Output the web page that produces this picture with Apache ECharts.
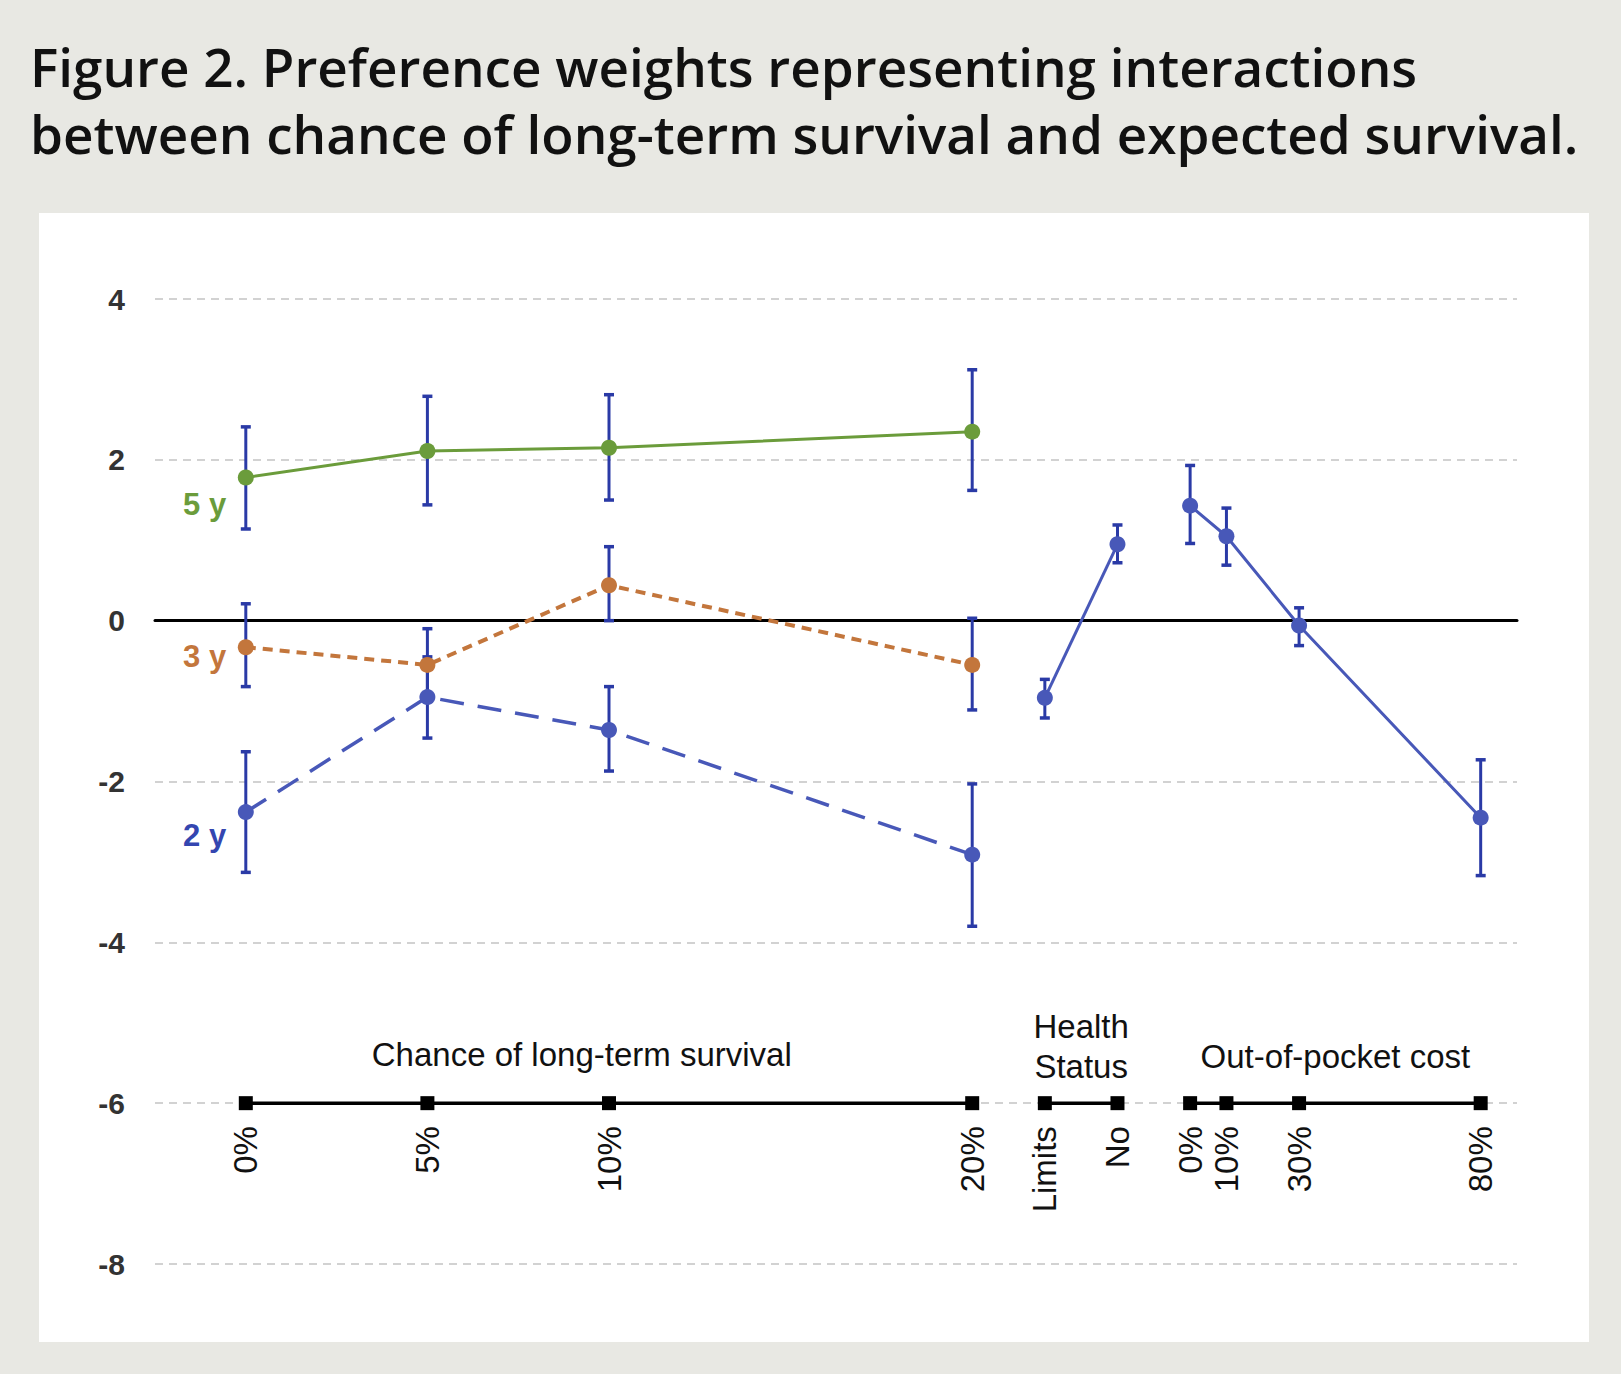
<!DOCTYPE html>
<html><head><meta charset="utf-8">
<script src="https://cdn.jsdelivr.net/npm/echarts@6/dist/echarts.min.js"></script>
<style>
html,body{margin:0;padding:0;background:#e8e8e3;}
#panel{position:absolute;left:39px;top:213px;width:1550px;height:1129px;background:#fff;}
#chart{position:absolute;left:0;top:0;width:1621px;height:1374px;}
</style></head><body>
<div id="panel"></div><div id="chart"></div>
<script>
// ---- categories / tick labels ----
const chanceTicks = ['0%', '5%', '10%', '20%'];
const chanceX = [0, 5, 10, 20];
const healthTicks = ['Limits', 'No'];
const healthX = [22, 24];
const costTicks = ['0%', '10%', '30%', '80%'];
const costX = [26, 27, 29, 34];
const yTicks = [-8, -6, -4, -2, 0, 2, 4];
const groupNames = ['Chance of long-term survival', 'Health\nStatus', 'Out-of-pocket cost'];
const seriesNames = ['5 y', '3 y', '2 y'];

// ---- series values (preference weights) ----
const y5 = [1.78, 2.11, 2.15, 2.35];
const y5Low = [1.14, 1.44, 1.50, 1.62];
const y5High = [2.41, 2.79, 2.81, 3.12];
const y3 = [-0.33, -0.55, 0.44, -0.55];
const y3Low = [-0.82, -1.00, 0.00, -1.11];
const y3High = [0.21, -0.10, 0.92, 0.03];
const y2 = [-2.38, -0.95, -1.36, -2.91];
const y2Low = [-3.13, -1.46, -1.87, -3.80];
const y2High = [-1.63, -0.45, -0.82, -2.03];
const health = [-0.96, 0.95];
const healthLow = [-1.21, 0.72];
const healthHigh = [-0.73, 1.19];
const cost = [1.43, 1.05, -0.06, -2.45];
const costLow = [0.96, 0.69, -0.31, -3.17];
const costHigh = [1.93, 1.40, 0.16, -1.73];

// ---- styles ----
const GREEN = '#6b9c3b', ORANGE = '#c3763c', BLUE = '#4858b8', ERR = '#2a3aa6', NAMEBLUE = '#3446b0';
const FONT = '"Liberation Sans", Arial, sans-serif';

const pairs = (xs, ys) => xs.map((x, i) => [x, ys[i]]);
const errData = [];
function addErr(xs, lo, hi) { xs.forEach((x, i) => errData.push([x, lo[i], hi[i]])); }
addErr(chanceX, y5Low, y5High);
addErr(chanceX, y3Low, y3High);
addErr(chanceX, y2Low, y2High);
addErr(healthX, healthLow, healthHigh);
addErr(costX, costLow, costHigh);

const AXIS_ROW = -6;
function axisRow(xs, ticks) {
  return {
    type: 'line', z: 3, data: xs.map(x => [x, AXIS_ROW]),
    symbol: 'rect', symbolSize: 14, itemStyle: { color: '#000' },
    lineStyle: { color: '#000', width: 3.5 },
    label: {
      show: true, position: 'bottom', distance: 16, rotate: 90,
      align: 'right', verticalAlign: 'middle',
      formatter: p => ticks[p.dataIndex],
      fontSize: 33, color: '#111', fontFamily: FONT
    },
    silent: true
  };
}
function lineSeries(xs, ys, color, type, width) {
  return {
    type: 'line', z: 4, data: pairs(xs, ys), symbol: 'circle', symbolSize: 16,
    itemStyle: { color: color }, lineStyle: { color: color, width: width, type: type },
    silent: true
  };
}

const nameColors = [GREEN, ORANGE, NAMEBLUE];
const nameAnchors = [[-0.54, 1.44], [-0.54, -0.45], [-0.54, -2.67]];

const chart = echarts.init(document.getElementById('chart'), null, { renderer: 'svg' });
chart.setOption({
  animation: false,
  backgroundColor: 'transparent',
  title: {
    text: 'Figure 2. Preference weights representing interactions\nbetween chance of long-term survival and expected survival.',
    left: 25, top: 28,
    textStyle: { fontFamily: '"Open Sans", "Noto Sans", sans-serif', fontWeight: 600, fontSize: 53, lineHeight: 67, color: '#111' }
  },
  grid: { left: 155, right: 104, top: 299, bottom: 110, containLabel: false },
  xAxis: {
    type: 'value', min: -2.5, max: 35,
    axisLine: { show: true, onZero: true, lineStyle: { color: '#000', width: 3 } },
    axisTick: { show: false }, axisLabel: { show: false }, splitLine: { show: false }
  },
  yAxis: {
    type: 'value', min: yTicks[0], max: yTicks[yTicks.length - 1], interval: 2,
    axisLine: { show: false }, axisTick: { show: false },
    axisLabel: { margin: 30, fontSize: 30, fontWeight: 'bold', color: '#333', fontFamily: FONT },
    splitLine: { show: true, lineStyle: { color: '#d2d2d2', width: 2, type: [8, 6] } }
  },
  series: [
    {
      type: 'custom', z: 2, data: errData, silent: true,
      renderItem: (params, api) => {
        const x = api.value(0);
        const top = api.coord([x, api.value(2)]);
        const bot = api.coord([x, api.value(1)]);
        const hw = 5;
        const st = { stroke: ERR, lineWidth: 3 };
        return {
          type: 'group', children: [
            { type: 'line', shape: { x1: top[0], y1: top[1], x2: bot[0], y2: bot[1] }, style: st },
            { type: 'line', shape: { x1: top[0] - hw, y1: top[1], x2: top[0] + hw, y2: top[1] }, style: { stroke: ERR, lineWidth: 3.5 } },
            { type: 'line', shape: { x1: bot[0] - hw, y1: bot[1], x2: bot[0] + hw, y2: bot[1] }, style: { stroke: ERR, lineWidth: 3.5 } }
          ]
        };
      }
    },
    lineSeries(chanceX, y5, GREEN, 'solid', 3),
    lineSeries(chanceX, y3, ORANGE, [10, 7], 4),
    lineSeries(chanceX, y2, BLUE, [24, 14], 3.5),
    lineSeries(healthX, health, BLUE, 'solid', 3),
    lineSeries(costX, cost, BLUE, 'solid', 3),
    axisRow(chanceX, chanceTicks),
    axisRow(healthX, healthTicks),
    axisRow(costX, costTicks),
    {
      type: 'scatter', z: 5, symbolSize: 0, silent: true, itemStyle: { opacity: 1 },
      data: [[9.25, -5.4], [23, -5.29], [30, -5.42]],
      label: {
        show: true, position: 'inside', formatter: p => groupNames[p.dataIndex], opacity: 1,
        fontSize: 33, lineHeight: 40, color: '#111', fontFamily: FONT, align: 'center', verticalAlign: 'middle'
      }
    },
    {
      type: 'scatter', z: 5, symbolSize: 0, silent: true, itemStyle: { opacity: 1 },
      data: nameAnchors.map((v, i) => ({ value: v, label: { color: nameColors[i] } })),
      label: {
        show: true, position: 'inside', align: 'right', verticalAlign: 'middle', opacity: 1,
        formatter: p => seriesNames[p.dataIndex],
        fontSize: 31, fontWeight: 'bold', fontFamily: FONT
      }
    }
  ]
});
</script>
</body></html>
